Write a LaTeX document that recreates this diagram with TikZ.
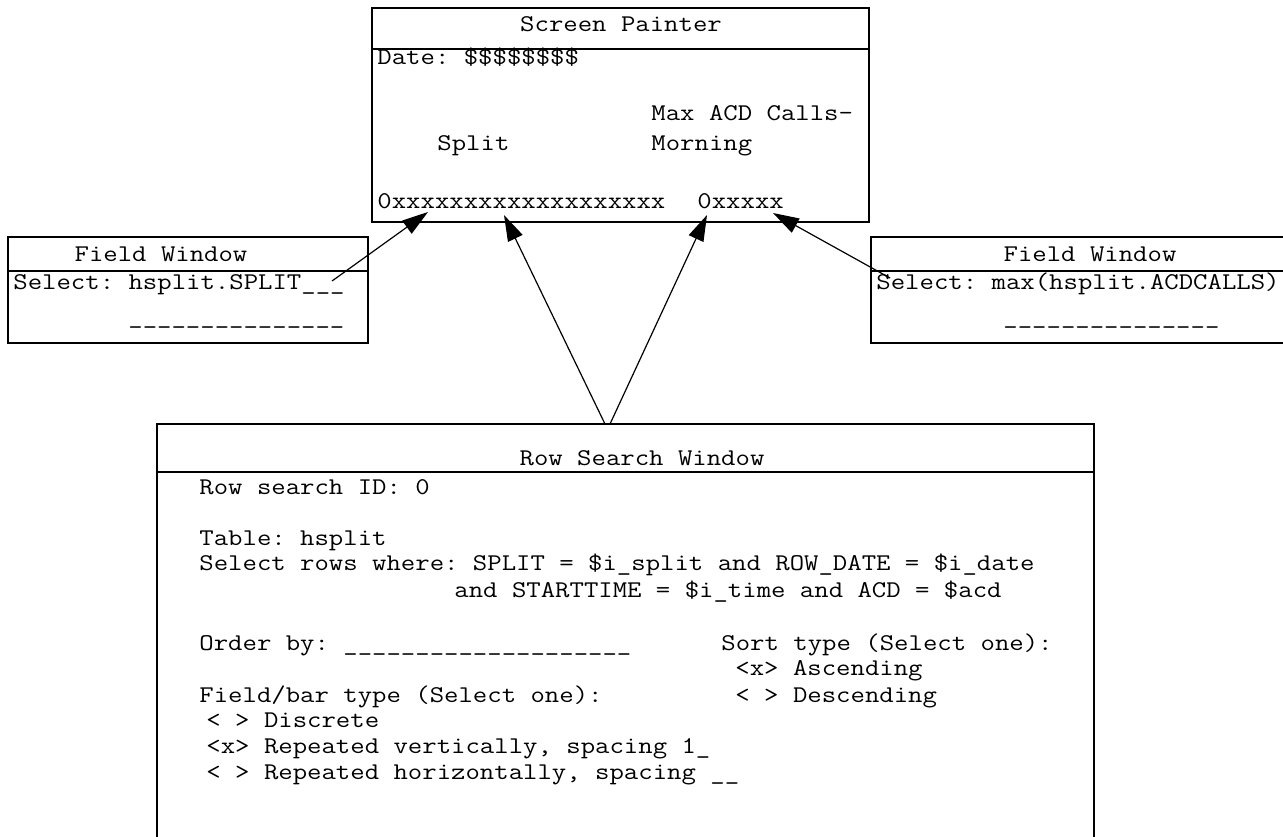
\documentclass[tikz,border=0pt]{standalone}
\usepackage{fontspec}
\setmonofont{lmmono12-regular.otf}[FakeStretch=1.165]
\usepackage{xcolor}
\usepackage[]{tikz}
\usetikzlibrary{positioning,calc}
\usetikzlibrary{arrows.meta,arrows}
\tikzstyle{winLine}  =[line width=1pt]
\tikzstyle{scrText}  =[inner sep=0pt, anchor=base west, font=\fontsize{12}{13}\selectfont\ttfamily]
\tikzstyle{scrTitle} =[inner sep=0pt, anchor=base, font=\fontsize{12}{13}\selectfont\ttfamily]
\tikzstyle{linkArrow}=[line width=0.6pt, -{Triangle[length=13pt,width=8pt]}]

\begin{document}
\begin{tikzpicture}[x=0.5pt, y=-0.5pt]
        \useasboundingbox (0,0) rectangle (1283,836);
        \clip (0,0) rectangle (1283,836);
        % screen painter
        \draw[winLine] (372,8) rectangle (869,222);
        \draw[winLine] (372,49) -- (869,49);
        \node[scrTitle] (spTitle) at (621,31) {Screen Painter};
        \node[scrText] (spDate) at (377,64) {Date: \$\$\$\$\$\$\$\$};
        \node[scrText] (spMax) at (651,120) {Max ACD Calls-};
        \node[scrText] (spSplit) at (437,150) {Split};
        \node[scrText] (spMorn) at (651,150) {Morning};
        \node[scrText] (spSplitFld) at (377,208) {0xxxxxxxxxxxxxxxxxxx};
        \node[scrText] (spMaxFld) at (697,208) {0xxxxx};
        % field windows
        \draw[winLine] (8,237) rectangle (368,343);
        \draw[winLine] (8,271) -- (368,271);
        \node[scrTitle] (fwLTitle) at (161,261) {Field Window};
        \node[scrText] (fwLSel) at (13,289) {Select: hsplit.SPLIT\_\_\_};
        \node[scrText] (fwLBlank) at (128,323) {\_\_\_\_\_\_\_\_\_\_\_\_\_\_\_};
        \draw[winLine] (871,237) rectangle (1300,343);
        \draw[winLine] (871,271) -- (1300,271);
        \node[scrTitle] (fwRTitle) at (1090,261) {Field Window};
        \node[scrText] (fwRSel) at (876,289) {Select: max(hsplit.ACDCALLS)};
        \node[scrText] (fwRBlank) at (1003,323) {\_\_\_\_\_\_\_\_\_\_\_\_\_\_\_};
        % row search window
        \draw[winLine] (157,850) -- (157,424) -- (1094,424) -- (1094,850);
        \draw[winLine] (157,472) -- (1094,472);
        \node[scrTitle] (rsTitle) at (642,465) {Row Search Window};
        \node[scrText] (rsId) at (199,494) {Row search ID: 0};
        \node[scrText] (rsTable) at (199,545) {Table: hsplit};
        \node[scrText] (rsWhere) at (199,570) {Select rows where: SPLIT = \$i\_split and ROW\_DATE = \$i\_date};
        \node[scrText] (rsWhere2) at (454,597) {and STARTTIME = \$i\_time and ACD = \$acd};
        \node[scrText] (rsOrder) at (199,650) {Order by: \_\_\_\_\_\_\_\_\_\_\_\_\_\_\_\_\_\_\_\_};
        \node[scrText] (rsSort) at (721,650) {Sort type (Select one):};
        \node[scrText] (rsAsc) at (735,675) {<x> Ascending};
        \node[scrText] (rsDesc) at (735,702) {< > Descending};
        \node[scrText] (rsBar) at (199,702) {Field/bar type (Select one):};
        \node[scrText] (rsDisc) at (206,727) {< > Discrete};
        \node[scrText] (rsVert) at (206,753) {<x> Repeated vertically, spacing 1\_};
        \node[scrText] (rsHoriz) at (206,779) {< > Repeated horizontally, spacing \_\_};
        % connector ends
        \coordinate (splitSrc) at (332,281);
        \coordinate (splitTip) at (428,212);
        \coordinate (rowSrcA) at (605,424);
        \coordinate (rowTipA) at (504,215);
        \coordinate (rowSrcB) at (610,424);
        \coordinate (rowTipB) at (707,215);
        \coordinate (maxSrc) at (890,278);
        \coordinate (maxTip) at (773,213);
        \draw[linkArrow] (splitSrc) -- (splitTip);
        \draw[linkArrow] (rowSrcA) -- (rowTipA);
        \draw[linkArrow] (rowSrcB) -- (rowTipB);
        \draw[linkArrow] (maxSrc) -- (maxTip);
      \end{tikzpicture}
\end{document}
